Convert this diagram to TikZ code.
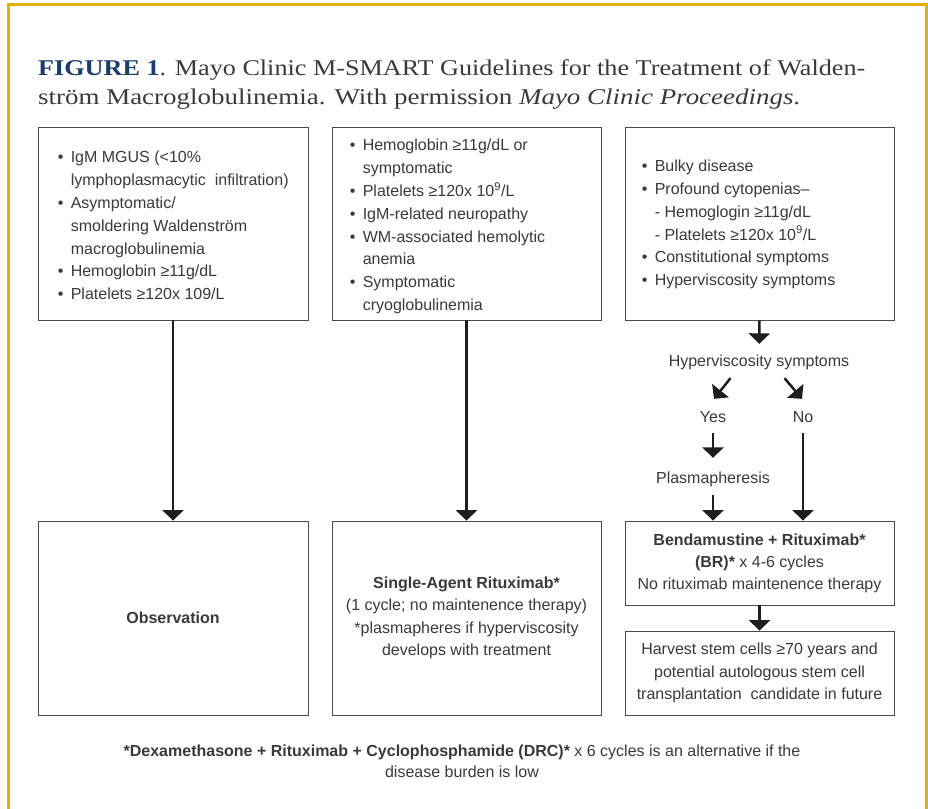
\documentclass[tikz,border=0pt]{standalone}
\usepackage{fontspec}
\usepackage{graphicx}
\setmainfont{Liberation Sans}
\newfontfamily\titlefont{Liberation Serif}
\usetikzlibrary{arrows.meta}
\definecolor{gold}{HTML}{E2B10A}
\definecolor{navy}{HTML}{1B3D6B}
\definecolor{txt}{HTML}{3A3A3A}
\definecolor{edgec}{HTML}{4A4A4A}
\definecolor{arrowc}{HTML}{1E1E1E}
\newcommand{\bul}{\makebox[13pt][l]{•}}
\newcommand{\ind}{\hspace*{13pt}}
\begin{document}
\begin{tikzpicture}[x=1pt,y=-1pt,
  box/.style={draw=edgec, line width=0.8pt, inner sep=0pt},
  body/.style={text=txt, font=\fontsize{16}{22.8}\selectfont, inner sep=0pt},
  lbl/.style={text=txt, font=\fontsize{16}{19}\selectfont, inner sep=0pt, text height=11.5pt, text depth=3.4pt},
  arr/.style={draw=arrowc, line width=2.5pt, -{Triangle[width=21pt,length=10.5pt]}}
]
\useasboundingbox (0,0) rectangle (928,808);
\fill[white] (0,0) rectangle (928,808);
\draw[gold, line width=2.8pt] (8.75,860) -- (8.75,4.75) -- (926.5,4.75) -- (926.5,860);

% title
\node[anchor=base west, inner sep=0pt, text=txt] (title1) at (38,75.5)
  {\resizebox{827pt}{\height}{\titlefont\fontsize{22.5}{26}\selectfont{\color{navy}\bfseries FIGURE 1}. Mayo Clinic M-SMART Guidelines for the Treatment of Walden-}};
\node[anchor=base west, inner sep=0pt, text=txt] (title2) at (38,104.5)
  {\resizebox{762pt}{\height}{\titlefont\fontsize{22.5}{26}\selectfont ström Macroglobulinemia. With permission \textit{Mayo Clinic Proceedings}.}};

% top boxes
\node[box, minimum width=270pt, minimum height=193pt] (b1) at (173,223.5) {};
\node[box, minimum width=269pt, minimum height=193pt] (b2) at (466.5,223.5) {};
\node[box, minimum width=269pt, minimum height=193pt] (b3) at (759.5,223.5) {};

\node[body, anchor=west, align=left] (b1t) at ([xshift=20pt,yshift=-2pt]b1.west) {%
\bul IgM MGUS (<10\%\\
\ind lymphoplasmacytic\ \ infiltration)\\
\bul Asymptomatic/\\
\ind smoldering Waldenström\\
\ind macroglobulinemia\\
\bul Hemoglobin ≥11g/dL\\
\bul Platelets ≥120x 109/L};

\node[body, anchor=west, align=left] (b2t) at ([xshift=18pt,yshift=-3pt]b2.west) {%
\bul Hemoglobin ≥11g/dL or\\
\ind symptomatic\\
\bul Platelets ≥120x 10\textsuperscript{9}/L\\
\bul IgM-related neuropathy\\
\bul WM-associated hemolytic\\
\ind anemia\\
\bul Symptomatic\\
\ind cryoglobulinemia};

\node[body, anchor=west, align=left] (b3t) at ([xshift=17pt,yshift=-1pt]b3.west) {%
\bul Bulky disease\\
\bul Profound cytopenias--\\
\ind - Hemoglogin ≥11g/dL\\
\ind - Platelets ≥120x 10\textsuperscript{9}/L\\
\bul Constitutional symptoms\\
\bul Hyperviscosity symptoms};

% right flow labels
\node[lbl] (hyp) at (759,362) {Hyperviscosity symptoms};
\node[lbl] (yes) at (713,418) {Yes};
\node[lbl] (no) at (803,418) {No};
\node[lbl] (plas) at (713,479) {Plasmapheresis};

% bottom boxes
\node[box, body, minimum width=270pt, minimum height=194pt, align=center] (b4) at (173,618) {\textbf{Observation}};
\node[box, body, minimum width=269pt, minimum height=194pt, align=center, font=\fontsize{16}{22.4}\selectfont] (b5) at (466.5,618) {%
\textbf{Single-Agent Rituximab*}\\
(1 cycle; no maintenence therapy)\\
*plasmapheres if hyperviscosity\\
develops with treatment};
\node[box, body, minimum width=269pt, minimum height=84pt, align=center, font=\fontsize{16}{22}\selectfont] (b6) at (759.5,563) {%
\textbf{Bendamustine + Rituximab*}\\
\textbf{(BR)*} x 4-6 cycles\\
No rituximab maintenence therapy};
\node[box, body, minimum width=269pt, minimum height=84pt, align=center, font=\fontsize{16}{22.5}\selectfont] (b7) at (759.5,673) {%
Harvest stem cells ≥70 years and\\
potential autologous stem cell\\
transplantation\ \ candidate in future};

% footnote
\node[body, align=center, font=\fontsize{16}{21}\selectfont] (foot) at (462,761.5) {%
\textbf{*Dexamethasone + Rituximab + Cyclophosphamide (DRC)*} x 6 cycles is an alternative if the\\
disease burden is low};

% arrows
\draw[arr] (b1.south) -- (b4.north);
\draw[arr] (b2.south) -- (b5.north);
\draw[arr, shorten >=10.5pt] (b3.south) -- (hyp.north);
\draw[arr] ([xshift=-28.5pt,yshift=-8.5pt]hyp.south) -- ([xshift=1pt,yshift=11.5pt]yes.north);
\draw[arr] ([xshift=25.5pt,yshift=-8.5pt]hyp.south) -- ([xshift=-1pt,yshift=11.5pt]no.north);
\draw[arr, shorten <=7.5pt, shorten >=13.5pt] (yes.south) -- (plas.north);
\draw[arr, shorten <=8.5pt] (plas.south) -- (plas.south |- b6.north);
\draw[arr, shorten <=7.5pt] (no.south) -- (no.south |- b6.north);
\draw[arr] (b6.south) -- (b7.north);
\end{tikzpicture}
\end{document}
